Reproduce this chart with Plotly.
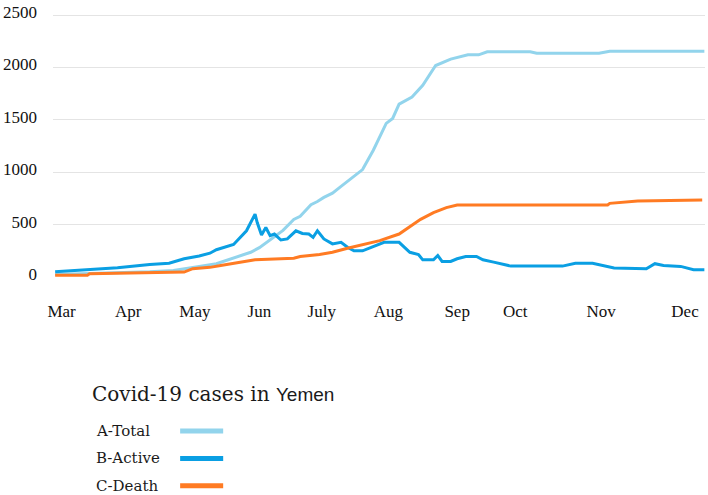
import plotly.graph_objects as go

# days counted from the start of the series (early March)
dias_total = [0, 21, 44, 55, 61, 67, 75, 83, 91, 95, 99, 106, 111, 114, 119, 122, 125, 129,
              133, 136, 141, 143, 148, 154, 157, 160, 166, 171, 177, 184, 192, 197, 201,
              221, 224, 253, 258, 302]
total = [25, 35, 50, 63, 80, 100, 127, 180, 236, 280, 340, 445, 550, 580, 690, 720, 760, 800,
         865, 912, 990, 1025, 1210, 1466, 1513, 1650, 1718, 1829, 2018, 2080, 2120, 2120, 2150,
         2150, 2135, 2135, 2155, 2155]

dias_ativos = [0, 13, 29, 44, 53, 60, 67, 72, 75, 83, 89, 93, 94, 96, 98, 100, 102, 105, 108,
               112, 115, 118, 120, 122, 125, 129, 133, 136, 139, 143, 148, 153, 160, 165, 169,
               171, 176, 178, 180, 184, 187, 191, 196, 199, 204, 212, 236, 242, 250, 260, 275,
               279, 283, 291, 297, 302]
ativos = [50, 70, 89, 120, 132, 174, 200, 227, 260, 310, 441, 600, 520, 400, 473, 394, 410, 353,
          363, 441, 416, 410, 378, 441, 363, 316, 331, 284, 250, 250, 290, 331, 331, 236, 215,
          164, 164, 205, 148, 148, 174, 196, 196, 164, 142, 104, 104, 132, 132, 87, 79, 127,
          110, 101, 70, 70]

dias_mortes = [0, 15, 16, 46, 60, 64, 72, 77, 86, 93, 111, 114, 123, 129, 136, 142, 151, 160,
               165, 170, 176, 182, 187, 257, 258, 266, 271, 301]
mortes = [16, 16, 30, 42, 47, 79, 92, 110, 142, 165, 180, 196, 215, 236, 275, 305, 347, 410,
          480, 550, 615, 662, 687, 687, 703, 716, 725, 735]

meses_pos = [3, 34, 65, 95, 124, 155, 187, 214, 254, 293]
meses = ['Mar', 'Apr', 'May', 'Jun', 'July', 'Aug', 'Sep', 'Oct', 'Nov', 'Dec']

series = [
    ('A-Total', dias_total, total, '#92d4ec'),
    ('B-Active', dias_ativos, ativos, '#0a9fe3'),
    ('C-Death', dias_mortes, mortes, '#ff7b23'),
]

serif = 'Liberation Serif, Times New Roman, serif'
serif_largo = 'DejaVu Serif, serif'

fig = go.Figure()
for nome, x, y, cor in series:
    fig.add_trace(go.Scatter(x=x, y=y, mode='lines', name=nome,
                             line=dict(color=cor, width=3), showlegend=False))

# legenda desenhada a mao: texto a esquerda, amostra de linha a direita
fig.add_annotation(
    text='Covid-19 cases in <span style="font-family:Liberation Sans, Arial, sans-serif;font-size:19px">Yemen</span>',
    xref='paper', yref='paper', x=0.057, y=-0.444, xanchor='left', yanchor='middle',
    showarrow=False, font=dict(family=serif_largo, size=20, color='#1a1a1a'))
for i, (nome, x, y, cor) in enumerate(series):
    yy = -0.586 - i * 0.104
    fig.add_annotation(text=nome, xref='paper', yref='paper', x=0.063, y=yy,
                       xanchor='left', yanchor='middle', showarrow=False,
                       font=dict(family=serif_largo, size=15, color='#1a1a1a'))
    fig.add_shape(type='line', xref='paper', yref='paper', x0=0.195, x1=0.261,
                  y0=yy, y1=yy, line=dict(color=cor, width=5))

fig.update_layout(
    width=708, height=495,
    margin=dict(l=53, r=3, t=11, b=218),
    paper_bgcolor='white', plot_bgcolor='white',
    xaxis=dict(range=[-1, 302.3], tickmode='array', tickvals=meses_pos, ticktext=meses,
               showgrid=False, zeroline=False, showline=False, ticks='',
               tickfont=dict(family=serif, size=17, color='#111'), ticklabelstandoff=22),
    yaxis=dict(range=[0, 2510], tickvals=[0, 500, 1000, 1500, 2000, 2500],
               showgrid=True, gridcolor='#e4e4e4', gridwidth=1, zeroline=False,
               tickfont=dict(family=serif, size=17, color='#111'), ticklabelstandoff=15,
               ticklabelshift=-3, ticklabeloverflow='allow'),
)

# tira a margem padrao do body para a figura ocupar a janela toda
fig.write_html('out.html', config={'displayModeBar': False},
               post_script="document.body.style.margin='0';")
